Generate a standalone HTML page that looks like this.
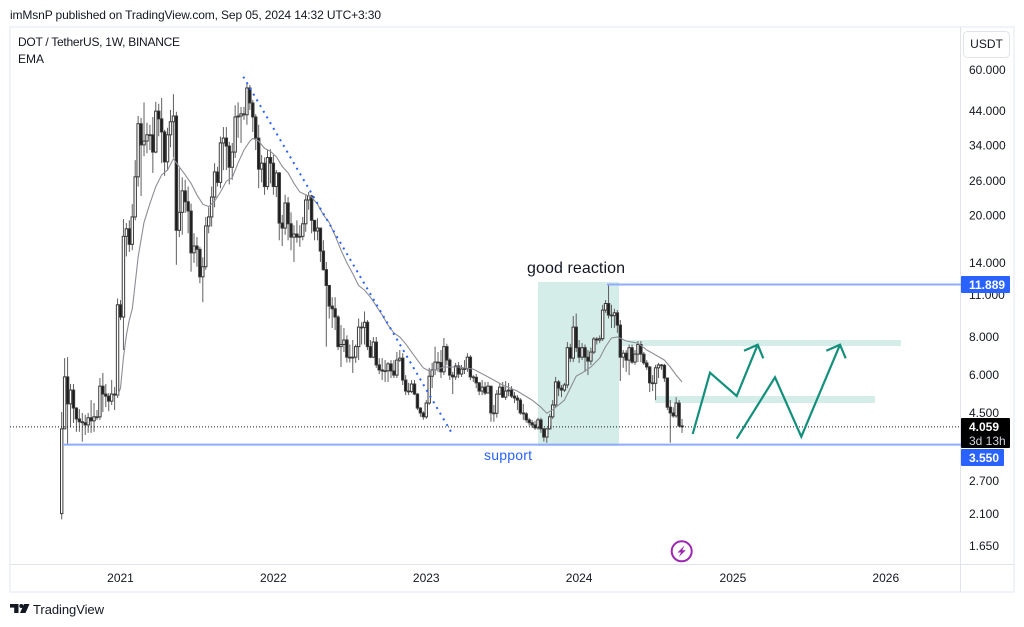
<!DOCTYPE html>
<html lang="en">
<head>
<meta charset="utf-8">
<title>DOT / TetherUS chart</title>
<style>
html,body{margin:0;padding:0;background:#fff;width:1024px;height:627px;overflow:hidden}
svg{display:block;font-family:"Liberation Sans",sans-serif}
</style>
</head>
<body>
<svg id="c" width="1024" height="627" viewBox="0 0 1024 627" xmlns="http://www.w3.org/2000/svg">
  <text x="10" y="19" font-size="12" fill="#131722" textLength="371">imMsnP published on TradingView.com, Sep 05, 2024 14:32 UTC+3:30</text>
  <rect x="10" y="27" width="1004" height="565" fill="#fff" stroke="#f0f3fa" stroke-width="2"/>
  <line x1="960.5" y1="27" x2="960.5" y2="592" stroke="#e0e3eb"/>
  <line x1="10" y1="564.5" x2="1014" y2="564.5" stroke="#e0e3eb"/>

  <rect x="538" y="282" width="81" height="164" fill="#d4ede8"/>
  <rect x="622" y="340" width="279" height="6" fill="#d4ede8"/>
  <rect x="655" y="396" width="220" height="7" fill="#d4ede8"/>

  <g id="candles"></g>
  <polyline id="ema" fill="none" stroke="#8d8d96" stroke-width="1.1"/>

  <line x1="243.3" y1="76.7" x2="451.7" y2="433" stroke="#2962ff" stroke-width="2" stroke-dasharray="2 4.6"/>
  <line id="supportLine" x1="63" x2="961" stroke="#8fabfd" stroke-width="2"/>
  <line id="topLine" x1="607" x2="961" stroke="#8fabfd" stroke-width="2"/>
  <line id="lastLine" x1="10" x2="961" stroke="#131722" stroke-width="1" stroke-dasharray="1 2"/>

  <g fill="none" stroke="#13907b" stroke-width="2.2" stroke-linejoin="miter">
    <polyline points="692.7,434 710,372.7 736.7,396 757.7,344.7"/>
    <polyline points="744,350.7 757.7,344.7 763.3,358.3"/>
    <polyline points="736.7,438.7 775,377.3 801.3,436.7 840,344.7"/>
    <polyline points="826.3,350.7 840,344.7 845.7,358.3"/>
  </g>

  <text x="527" y="273" font-size="16" fill="#131722" textLength="98">good reaction</text>
  <text x="484" y="460" font-size="14" fill="#2962ff" textLength="48">support</text>

  <text x="18" y="46" font-size="12" fill="#131722" textLength="162">DOT / TetherUS, 1W, BINANCE</text>
  <text x="18" y="63" font-size="12" fill="#131722">EMA</text>

  <g>
    <circle cx="681.7" cy="551.3" r="10" fill="#fff" stroke="#9c27b0" stroke-width="2"/>
    <path d="M684.5 545.5 L677.5 552.5 L681 552.5 L678.8 557 L685.8 550.3 L682.3 550.3 Z" fill="#9c27b0"/>
  </g>

  <g id="yTicks" font-size="12" fill="#131722"></g>
  <g id="xTicks" font-size="12" fill="#131722" text-anchor="middle"></g>

  <rect x="963.5" y="31.5" width="46" height="26" rx="4" fill="#fff" stroke="#e0e3eb"/>
  <text x="986.5" y="48" font-size="12" fill="#131722" text-anchor="middle">USDT</text>

  <rect x="961" y="276" width="49" height="17" rx="1" fill="#2962ff"/>
  <text x="969" y="289" font-size="12" font-weight="bold" fill="#fff">11.889</text>
  <rect x="961" y="418" width="49" height="30" rx="1" fill="#000"/>
  <text x="969" y="431" font-size="12" font-weight="bold" fill="#fff">4.059</text>
  <text x="969" y="445" font-size="12" fill="#d1d4dc">3d 13h</text>
  <rect x="961" y="449" width="43" height="17" rx="1" fill="#2962ff"/>
  <text x="969" y="462" font-size="12" font-weight="bold" fill="#fff">3.550</text>

  <g fill="#131722">
    <path d="M10 604H18.5V613H14.2V607.6H10Z"/>
    <circle cx="21.3" cy="606" r="2"/>
    <path d="M24 604H29.5L25.5 613H20Z"/>
  </g>
  <text x="33" y="614" font-size="13" fill="#131722" textLength="71">TradingView</text>
</svg>
<script>
const firstOpen = 2.11;
const closes = [
4.00,5.92,4.83,5.36,4.68,4.31,4.22,4.19,4.12,4.35,
4.25,4.38,4.38,5.52,5.20,5.12,4.93,5.20,5.16,10.2,
9.30,17.1,18.1,16.1,19.8,26.8,40.0,34.1,35.1,36.8,
36.8,32.3,44.0,41.5,37.6,30.0,36.8,40.6,42.4,17.9,
20.5,24.1,22.2,20.7,15.1,15.9,15.5,12.6,13.6,18.5,
19.8,23.0,27.8,25.7,34.6,35.9,33.8,28.8,32.3,42.1,
42.4,43.1,42.8,52.4,46.8,42.1,35.9,28.4,29.7,24.9,
31.0,29.7,24.9,27.6,18.9,18.2,22.0,18.8,17.0,17.4,
17.0,17.1,18.8,22.5,23.2,19.3,17.8,18.2,15.3,13.3,
11.8,10.1,9.9,9.3,7.44,7.56,7.82,6.87,6.87,6.87,
7.44,8.62,8.6,8.94,7.44,6.87,7.7,6.48,6.24,6.19,
6.2,6.53,6.19,6.0,6.72,6.82,5.78,5.32,5.3,5.61,
5.2,4.68,4.51,4.38,4.86,5.95,6.24,6.62,6.6,6.15,
7.44,6.72,6.0,5.92,6.43,6.05,6.28,6.3,6.87,5.92,
5.9,5.66,5.32,5.48,5.24,5.52,4.51,4.5,5.2,5.48,
5.08,5.32,5.36,5.12,5.05,4.97,4.51,4.48,4.28,4.19,
4.12,4.03,4.28,4.0,3.76,4.0,4.38,4.79,5.7,5.44,
5.36,5.57,7.38,6.82,8.62,7.38,6.87,7.38,6.87,6.67,
7.14,7.88,7.82,7.9,9.8,10.3,9.44,9.4,9.6,8.75,
6.87,7.08,6.72,7.38,6.62,7.03,7.56,7.03,6.58,6.38,
5.66,5.64,6.34,6.48,6.46,5.87,4.71,4.51,4.41,4.86,
4.09,4.059];
const highs = [
4.54,6.82,6.87,5.61,5.61,4.71,4.64,4.51,4.45,4.51,
4.97,4.86,4.61,5.87,6.10,5.61,5.24,5.78,5.48,10.7,
10.57,19.5,18.9,19.3,21.8,30.4,42.4,41.8,47.0,40.3,
39.7,42.1,47.2,46.5,48.6,38.2,38.8,44.4,50.0,43.8,
28.6,26.7,26.2,24.9,21.9,17.5,17.0,15.8,14.6,19.8,
21.3,24.9,29.7,28.9,36.3,39.0,39.0,34.9,34.6,46.0,
47.0,45.4,45.4,54.5,53.6,47.9,43.0,39.7,31.6,31.0,
32.8,33.0,31.6,28.2,27.8,20.1,23.4,23.0,20.5,18.6,
19.3,18.6,19.8,23.4,23.9,23.4,19.3,19.6,18.2,16.6,
14.1,11.8,10.8,10.8,9.44,8.75,8.56,8.1,7.56,7.82,
7.56,9.2,8.94,9.7,9.09,7.82,8.0,8.0,6.82,6.82,
6.72,6.62,6.72,6.72,7.14,7.25,7.08,6.0,5.66,5.78,
5.78,5.24,4.71,4.57,4.97,6.34,6.58,7.44,7.14,7.25,
7.94,7.6,6.82,6.15,6.58,6.62,6.48,6.72,7.08,6.98,
6.0,6.05,5.7,5.78,5.7,5.7,5.44,4.79,5.36,5.66,
5.7,5.74,5.66,5.52,5.28,5.16,5.05,4.83,4.54,4.35,
4.28,4.25,4.35,4.35,4.03,4.03,4.48,4.97,5.92,5.78,
5.57,5.66,7.7,7.6,9.37,9.55,7.82,7.64,7.56,7.25,
7.38,8.0,8.0,8.1,10.2,10.57,11.9,10.2,9.9,9.8,
9.09,7.25,7.25,7.56,7.56,7.25,7.76,7.76,7.14,6.72,
6.43,6.0,6.48,6.58,6.53,6.53,5.87,4.97,4.71,5.08,
4.97,4.31];
const lows = [
2.02,4.00,3.57,4.06,4.18,3.91,3.91,3.63,3.82,3.88,
3.88,3.91,4.28,4.28,4.54,4.71,4.57,4.79,4.61,5.05,
9.09,7.25,14.7,15.2,15.4,19.3,24.9,23.2,31.3,32.0,
32.8,27.6,32.0,36.4,29.7,27.0,28.2,33.5,31.0,13.8,
17.0,17.3,20.4,17.5,13.1,14.0,13.6,12.0,10.4,13.3,
17.5,18.4,21.3,24.9,24.6,28.2,28.2,25.3,26.2,30.9,
36.0,34.6,41.2,39.7,44.4,37.6,32.8,24.6,25.7,23.4,
24.3,25.5,23.4,23.0,16.6,15.9,17.3,16.6,15.4,14.1,
16.3,15.8,16.6,17.7,20.9,17.5,16.6,16.6,14.1,13.2,
7.44,9.2,8.56,8.43,7.25,6.38,7.14,6.6,6.6,6.1,
6.58,6.72,7.56,7.56,7.25,6.82,6.82,6.34,6.05,5.78,
5.7,5.7,5.87,5.87,5.87,6.62,5.57,5.16,5.16,5.24,
5.16,4.61,4.38,4.28,4.31,4.79,5.44,6.0,6.15,5.87,
6.0,6.48,5.78,5.2,5.78,5.87,5.92,6.05,6.15,5.78,
5.7,5.44,5.16,5.16,5.16,5.24,4.22,4.22,4.35,5.16,
5.05,4.97,5.12,5.05,4.86,4.61,4.45,4.28,4.19,4.09,
4.03,3.97,3.97,3.88,3.63,3.6,3.97,4.31,4.71,5.12,
5.08,5.28,5.44,6.62,6.62,7.14,6.58,6.72,6.15,6.0,
6.48,7.03,7.56,7.64,7.76,9.6,9.2,8.56,8.56,8.25,
5.74,6.34,6.15,6.0,6.53,6.48,6.62,6.62,6.48,6.24,
5.28,5.32,4.97,5.87,6.24,5.7,4.61,3.6,4.35,4.35,
4.06,3.88];
const emaWeeks = [19,20,21,22,23,24,25,26,28,30,32,34,36,38,40,42,44,46,48,50,52,54,56,58,60,62,64,65,67,69,71,73,75,77,79,81,83,85,87,89,91,93,95,97,99,101,103,105,107,109,111,113,115,117,119,121,123,125,127,130,135,140,145,150,155,160,163,165,167,169,171,173,175,177,180,183,185,187,189,192,196,199,203,205,207,209,211];
const emaValues = [5.12,5.44,6.82,8.12,9.09,9.9,12.0,14.6,19.0,21.9,24.9,27.2,28.2,30.7,28.9,27.2,25.5,23.4,21.8,21.4,22.3,23.9,25.9,26.6,29.8,32.8,35.1,35.8,35.1,33.2,32.5,31.2,29.0,27.6,25.5,23.9,23.4,23.0,21.8,20.1,19.0,17.2,15.4,14.0,12.9,11.8,11.4,10.8,10.1,9.44,8.75,8.25,8.0,7.6,7.14,6.72,6.34,6.19,6.24,6.38,6.38,6.28,5.92,5.57,5.32,4.97,4.71,4.5,4.62,4.79,4.97,5.44,5.95,6.1,6.38,6.82,7.44,7.94,8.0,7.76,7.64,7.25,6.9,6.72,6.38,6.0,5.7];
const priceTicks = [60,44,34,26,20,14,11,8,6,4.5,2.7,2.1,1.65];
const yearLabels = ["2021","2022","2023","2024","2025","2026"];
const yearWeeks = [20,72,124,176,228.3,280.3];
const supportPrice = 3.55;
const resistancePrice = 11.889;
const lastPrice = 4.059;

const NS = 'http://www.w3.org/2000/svg';
function xAt(week){ return 61.7 + 2.94 * week; }
function yAt(price){ return 337 - 132.5 * Math.log(price / 8); }

const candleLayer = document.getElementById('candles');
closes.forEach(function(close, i){
  const open = i === 0 ? firstOpen : closes[i - 1];
  const up = close >= open;
  const cx = xAt(i);
  const g = document.createElementNS(NS, 'g');
  
  
  const wick = document.createElementNS(NS, 'line');
  
  
  wick.setAttribute('x1', cx);
  wick.setAttribute('x2', cx);
  wick.setAttribute('y1', yAt(highs[i]));
  wick.setAttribute('y2', yAt(lows[i]));
  wick.setAttribute('stroke', '#5e5e5e');
  wick.setAttribute('stroke-width', '1');
  g.appendChild(wick);
  const top = yAt(Math.max(open, close));
  const bottom = yAt(Math.min(open, close));
  const body = document.createElementNS(NS, 'rect');
  
  
  body.setAttribute('x', cx - 1.2);
  body.setAttribute('width', 2.4);
  body.setAttribute('y', top);
  body.setAttribute('height', Math.max(bottom - top, 0.8));
  body.setAttribute('fill', up ? '#ffffff' : '#1c1c1c');
  body.setAttribute('stroke', '#3a3a3a');
  body.setAttribute('stroke-width', '1');
  g.appendChild(body);
  candleLayer.appendChild(g);
});

document.getElementById('ema').setAttribute('points', emaWeeks.map(function(w, i){
  return xAt(w).toFixed(1) + ',' + yAt(emaValues[i]).toFixed(1);
}).join(' '));

[['supportLine', supportPrice], ['topLine', resistancePrice], ['lastLine', lastPrice]].forEach(function(pair){
  const el = document.getElementById(pair[0]);
  el.setAttribute('y1', yAt(pair[1]));
  el.setAttribute('y2', yAt(pair[1]));
});

const yLayer = document.getElementById('yTicks');
priceTicks.forEach(function(p){
  const t = document.createElementNS(NS, 'text');
  
  
  t.setAttribute('x', 969);
  t.setAttribute('y', yAt(p) + 4);
  t.textContent = p.toFixed(3);
  yLayer.appendChild(t);
});

const xLayer = document.getElementById('xTicks');
yearLabels.forEach(function(label, i){
  const t = document.createElementNS(NS, 'text');
  
  
  t.setAttribute('x', xAt(yearWeeks[i]));
  t.setAttribute('y', 582);
  t.textContent = label;
  xLayer.appendChild(t);
});
</script>
</body>
</html>
